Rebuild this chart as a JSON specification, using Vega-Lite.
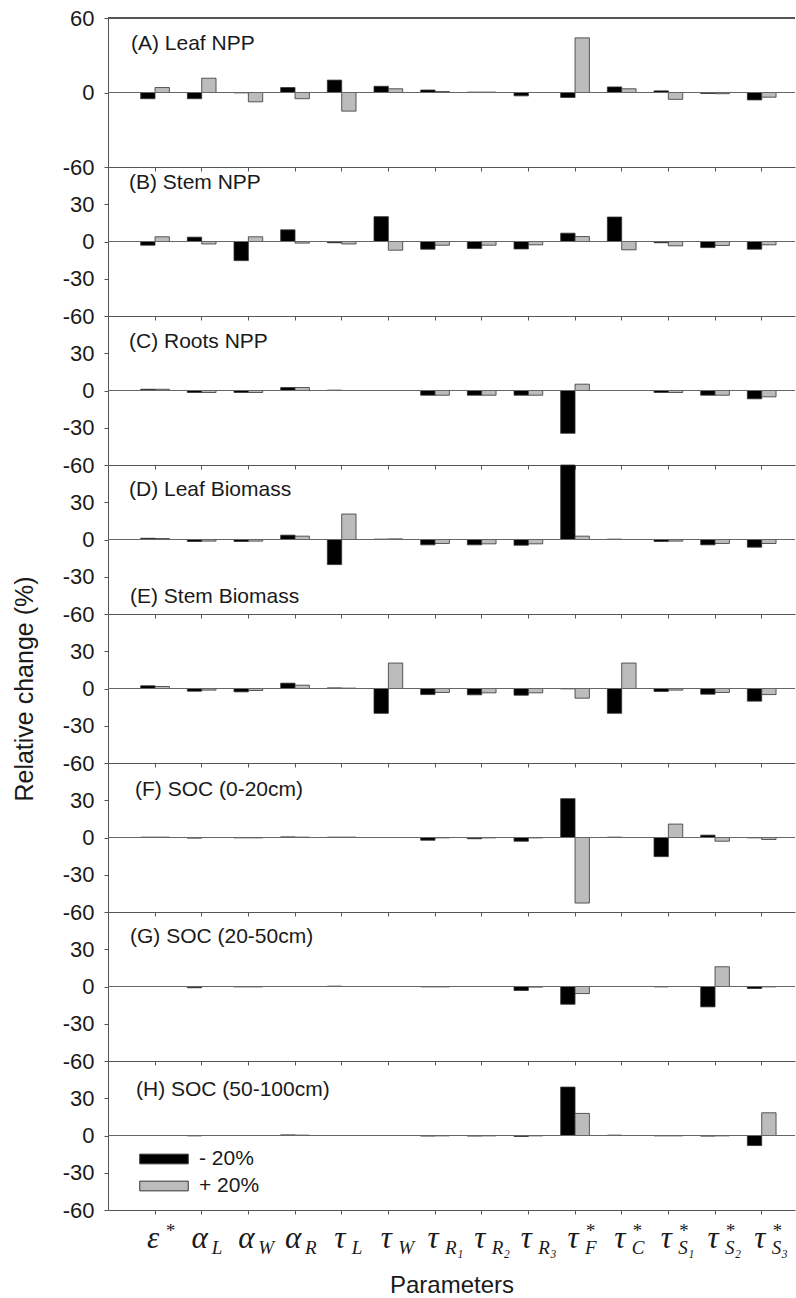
{
  "$schema": "https://vega.github.io/schema/vega-lite/v6.json",
  "padding": {"left": 12, "top": 7, "right": 0, "bottom": 0},
  "spacing": 0,
  "bounds": "flush",
  "datasets": {
    "d": [
      {"panel":"A","param":"ε*","- 20%":-5,"+ 20%":4},
      {"panel":"A","param":"αL","- 20%":-5,"+ 20%":11.5},
      {"panel":"A","param":"αW","- 20%":-0.3,"+ 20%":-7.5},
      {"panel":"A","param":"αR","- 20%":4,"+ 20%":-5},
      {"panel":"A","param":"τL","- 20%":10,"+ 20%":-15},
      {"panel":"A","param":"τW","- 20%":5,"+ 20%":3},
      {"panel":"A","param":"τR₁","- 20%":2,"+ 20%":0.8},
      {"panel":"A","param":"τR₂","- 20%":0.3,"+ 20%":0.3},
      {"panel":"A","param":"τR₃","- 20%":-2.7,"+ 20%":0},
      {"panel":"A","param":"τF*","- 20%":-4,"+ 20%":44},
      {"panel":"A","param":"τC*","- 20%":4.5,"+ 20%":3},
      {"panel":"A","param":"τS₁*","- 20%":1.3,"+ 20%":-5.5},
      {"panel":"A","param":"τS₂*","- 20%":-0.8,"+ 20%":-1},
      {"panel":"A","param":"τS₃*","- 20%":-6,"+ 20%":-3.8},
      {"panel":"B","param":"ε*","- 20%":-3,"+ 20%":3.8},
      {"panel":"B","param":"αL","- 20%":3.5,"+ 20%":-2},
      {"panel":"B","param":"αW","- 20%":-15.4,"+ 20%":3.8},
      {"panel":"B","param":"αR","- 20%":9.4,"+ 20%":-1.3},
      {"panel":"B","param":"τL","- 20%":-1,"+ 20%":-2},
      {"panel":"B","param":"τW","- 20%":20,"+ 20%":-7},
      {"panel":"B","param":"τR₁","- 20%":-6.2,"+ 20%":-3},
      {"panel":"B","param":"τR₂","- 20%":-5.7,"+ 20%":-3},
      {"panel":"B","param":"τR₃","- 20%":-6,"+ 20%":-2.7},
      {"panel":"B","param":"τF*","- 20%":6.7,"+ 20%":4},
      {"panel":"B","param":"τC*","- 20%":19.7,"+ 20%":-6.7},
      {"panel":"B","param":"τS₁*","- 20%":-1,"+ 20%":-3.5},
      {"panel":"B","param":"τS₂*","- 20%":-4.9,"+ 20%":-3.2},
      {"panel":"B","param":"τS₃*","- 20%":-6.2,"+ 20%":-2.7},
      {"panel":"C","param":"ε*","- 20%":1,"+ 20%":1},
      {"panel":"C","param":"αL","- 20%":-1.6,"+ 20%":-1.6},
      {"panel":"C","param":"αW","- 20%":-1.6,"+ 20%":-1.6},
      {"panel":"C","param":"αR","- 20%":2.4,"+ 20%":2.4},
      {"panel":"C","param":"τL","- 20%":0.3,"+ 20%":0},
      {"panel":"C","param":"τW","- 20%":0,"+ 20%":0},
      {"panel":"C","param":"τR₁","- 20%":-3.8,"+ 20%":-3.8},
      {"panel":"C","param":"τR₂","- 20%":-3.8,"+ 20%":-3.8},
      {"panel":"C","param":"τR₃","- 20%":-3.8,"+ 20%":-3.8},
      {"panel":"C","param":"τF*","- 20%":-34.5,"+ 20%":5.1},
      {"panel":"C","param":"τC*","- 20%":0,"+ 20%":0},
      {"panel":"C","param":"τS₁*","- 20%":-1.6,"+ 20%":-1.6},
      {"panel":"C","param":"τS₂*","- 20%":-3.8,"+ 20%":-3.8},
      {"panel":"C","param":"τS₃*","- 20%":-6.7,"+ 20%":-5.1},
      {"panel":"D","param":"ε*","- 20%":1,"+ 20%":0.8},
      {"panel":"D","param":"αL","- 20%":-1.6,"+ 20%":-1.3},
      {"panel":"D","param":"αW","- 20%":-1.6,"+ 20%":-1.3},
      {"panel":"D","param":"αR","- 20%":3.5,"+ 20%":2.7},
      {"panel":"D","param":"τL","- 20%":-20.2,"+ 20%":20.5},
      {"panel":"D","param":"τW","- 20%":0.3,"+ 20%":0.5},
      {"panel":"D","param":"τR₁","- 20%":-4.3,"+ 20%":-3.2},
      {"panel":"D","param":"τR₂","- 20%":-4.3,"+ 20%":-3.5},
      {"panel":"D","param":"τR₃","- 20%":-4.6,"+ 20%":-3.5},
      {"panel":"D","param":"τF*","- 20%":60,"+ 20%":2.7},
      {"panel":"D","param":"τC*","- 20%":0.3,"+ 20%":0},
      {"panel":"D","param":"τS₁*","- 20%":-1.6,"+ 20%":-1.3},
      {"panel":"D","param":"τS₂*","- 20%":-4.3,"+ 20%":-3.2},
      {"panel":"D","param":"τS₃*","- 20%":-6.2,"+ 20%":-3.2},
      {"panel":"E","param":"ε*","- 20%":2.2,"+ 20%":1.6},
      {"panel":"E","param":"αL","- 20%":-2.2,"+ 20%":-1.3},
      {"panel":"E","param":"αW","- 20%":-2.7,"+ 20%":-1.6},
      {"panel":"E","param":"αR","- 20%":4.3,"+ 20%":2.7},
      {"panel":"E","param":"τL","- 20%":0.5,"+ 20%":0.3},
      {"panel":"E","param":"τW","- 20%":-20,"+ 20%":20.5},
      {"panel":"E","param":"τR₁","- 20%":-4.9,"+ 20%":-3.2},
      {"panel":"E","param":"τR₂","- 20%":-5.1,"+ 20%":-3.5},
      {"panel":"E","param":"τR₃","- 20%":-5.4,"+ 20%":-3.5},
      {"panel":"E","param":"τF*","- 20%":-0.3,"+ 20%":-7.8},
      {"panel":"E","param":"τC*","- 20%":-20,"+ 20%":20.5},
      {"panel":"E","param":"τS₁*","- 20%":-2.4,"+ 20%":-1.3},
      {"panel":"E","param":"τS₂*","- 20%":-4.6,"+ 20%":-3.2},
      {"panel":"E","param":"τS₃*","- 20%":-10.2,"+ 20%":-4.9},
      {"panel":"F","param":"ε*","- 20%":0.3,"+ 20%":0.3},
      {"panel":"F","param":"αL","- 20%":-0.5,"+ 20%":0},
      {"panel":"F","param":"αW","- 20%":-0.3,"+ 20%":-0.3},
      {"panel":"F","param":"αR","- 20%":0.5,"+ 20%":0.3},
      {"panel":"F","param":"τL","- 20%":0.3,"+ 20%":0.3},
      {"panel":"F","param":"τW","- 20%":0,"+ 20%":0},
      {"panel":"F","param":"τR₁","- 20%":-2.2,"+ 20%":-0.3},
      {"panel":"F","param":"τR₂","- 20%":-1,"+ 20%":-0.3},
      {"panel":"F","param":"τR₃","- 20%":-3,"+ 20%":-0.3},
      {"panel":"F","param":"τF*","- 20%":31.3,"+ 20%":-52.8},
      {"panel":"F","param":"τC*","- 20%":0.3,"+ 20%":0},
      {"panel":"F","param":"τS₁*","- 20%":-15.4,"+ 20%":10.8},
      {"panel":"F","param":"τS₂*","- 20%":1.9,"+ 20%":-3},
      {"panel":"F","param":"τS₃*","- 20%":-0.3,"+ 20%":-1.6},
      {"panel":"G","param":"ε*","- 20%":0,"+ 20%":0},
      {"panel":"G","param":"αL","- 20%":-1,"+ 20%":0},
      {"panel":"G","param":"αW","- 20%":-0.3,"+ 20%":-0.3},
      {"panel":"G","param":"αR","- 20%":0,"+ 20%":0},
      {"panel":"G","param":"τL","- 20%":0.3,"+ 20%":0},
      {"panel":"G","param":"τW","- 20%":0,"+ 20%":0},
      {"panel":"G","param":"τR₁","- 20%":-0.3,"+ 20%":-0.3},
      {"panel":"G","param":"τR₂","- 20%":0,"+ 20%":0},
      {"panel":"G","param":"τR₃","- 20%":-3.2,"+ 20%":-0.5},
      {"panel":"G","param":"τF*","- 20%":-14.3,"+ 20%":-5.7},
      {"panel":"G","param":"τC*","- 20%":0,"+ 20%":0},
      {"panel":"G","param":"τS₁*","- 20%":-0.3,"+ 20%":0},
      {"panel":"G","param":"τS₂*","- 20%":-16.4,"+ 20%":15.9},
      {"panel":"G","param":"τS₃*","- 20%":-1.6,"+ 20%":-0.3},
      {"panel":"H","param":"ε*","- 20%":0,"+ 20%":0},
      {"panel":"H","param":"αL","- 20%":-0.3,"+ 20%":0},
      {"panel":"H","param":"αW","- 20%":0,"+ 20%":0},
      {"panel":"H","param":"αR","- 20%":0.5,"+ 20%":0.3},
      {"panel":"H","param":"τL","- 20%":0,"+ 20%":0},
      {"panel":"H","param":"τW","- 20%":0,"+ 20%":0},
      {"panel":"H","param":"τR₁","- 20%":-0.5,"+ 20%":-0.3},
      {"panel":"H","param":"τR₂","- 20%":-0.5,"+ 20%":-0.3},
      {"panel":"H","param":"τR₃","- 20%":-0.8,"+ 20%":-0.3},
      {"panel":"H","param":"τF*","- 20%":39,"+ 20%":17.8},
      {"panel":"H","param":"τC*","- 20%":0.3,"+ 20%":0},
      {"panel":"H","param":"τS₁*","- 20%":-0.3,"+ 20%":-0.3},
      {"panel":"H","param":"τS₂*","- 20%":-0.5,"+ 20%":-0.3},
      {"panel":"H","param":"τS₃*","- 20%":-8.1,"+ 20%":18.3}
    ]
  },
  "data": {"name": "d"},
  "transform": [{"fold": ["- 20%", "+ 20%"], "as": ["change", "value"]}],
  "resolve": {"scale": {"color": "independent"}, "legend": {"color": "independent"}},
  "vconcat": [
    {
      "width": 687, "height": 149,
      "title": {"text": "(A) Leaf NPP", "offset": -47, "dx": 23},
      "transform": [{"filter": "datum.panel == 'A'"}],
      "layer": [
        {"mark": {"type": "bar", "stroke": "#333333", "strokeWidth": 0.8},
         "encoding": {
           "x": {"field": "param", "type": "nominal", "sort": null, "scale": {"domain": ["ε*","αL","αW","αR","τL","τW","τR₁","τR₂","τR₃","τF*","τC*","τS₁*","τS₂*","τS₃*"], "paddingInner": 0.385, "paddingOuter": 0.553, "align": 0.633}, "axis": {"labels": false, "title": null}},
           "xOffset": {"field": "change", "type": "nominal", "scale": {"domain": ["- 20%", "+ 20%"], "paddingInner": 0, "paddingOuter": 0}},
           "y": {"field": "value", "type": "quantitative", "scale": {"domain": [-60, 60], "nice": false}, "axis": {"values": [-60, -30, 0, 30, 60], "title": null}},
           "color": {"field": "change", "type": "nominal", "scale": {"domain": ["- 20%", "+ 20%"], "range": ["#000000", "#bcbcbc"]}, "legend": null}
         }},
        {"mark": {"type": "rule", "color": "#666666", "strokeWidth": 1}, "encoding": {"y": {"datum": 0}}},
        {"mark": {"type": "rule", "color": "#555555", "strokeWidth": 1}, "encoding": {"y": {"datum": 60}}}
      ]
    },
    {
      "width": 687, "height": 149,
      "title": {"text": "(B) Stem NPP", "offset": -26, "dx": 21},
      "transform": [{"filter": "datum.panel == 'B'"}],
      "layer": [
        {"mark": {"type": "bar", "stroke": "#333333", "strokeWidth": 0.8},
         "encoding": {
           "x": {"field": "param", "type": "nominal", "sort": null, "scale": {"domain": ["ε*","αL","αW","αR","τL","τW","τR₁","τR₂","τR₃","τF*","τC*","τS₁*","τS₂*","τS₃*"], "paddingInner": 0.385, "paddingOuter": 0.553, "align": 0.633}, "axis": {"labels": false, "title": null}},
           "xOffset": {"field": "change", "type": "nominal", "scale": {"domain": ["- 20%", "+ 20%"], "paddingInner": 0, "paddingOuter": 0}},
           "y": {"field": "value", "type": "quantitative", "scale": {"domain": [-60, 60], "nice": false}, "axis": {"values": [-60, -30, 0, 30], "title": null}},
           "color": {"field": "change", "type": "nominal", "scale": {"domain": ["- 20%", "+ 20%"], "range": ["#000000", "#bcbcbc"]}, "legend": null}
         }},
        {"mark": {"type": "rule", "color": "#666666", "strokeWidth": 1}, "encoding": {"y": {"datum": 0}}}
      ]
    },
    {
      "width": 687, "height": 149,
      "title": {"text": "(C) Roots NPP", "offset": -36, "dx": 21},
      "transform": [{"filter": "datum.panel == 'C'"}],
      "layer": [
        {"mark": {"type": "bar", "stroke": "#333333", "strokeWidth": 0.8},
         "encoding": {
           "x": {"field": "param", "type": "nominal", "sort": null, "scale": {"domain": ["ε*","αL","αW","αR","τL","τW","τR₁","τR₂","τR₃","τF*","τC*","τS₁*","τS₂*","τS₃*"], "paddingInner": 0.385, "paddingOuter": 0.553, "align": 0.633}, "axis": {"labels": false, "title": null}},
           "xOffset": {"field": "change", "type": "nominal", "scale": {"domain": ["- 20%", "+ 20%"], "paddingInner": 0, "paddingOuter": 0}},
           "y": {"field": "value", "type": "quantitative", "scale": {"domain": [-60, 60], "nice": false}, "axis": {"values": [-60, -30, 0, 30], "title": null}},
           "color": {"field": "change", "type": "nominal", "scale": {"domain": ["- 20%", "+ 20%"], "range": ["#000000", "#bcbcbc"]}, "legend": null}
         }},
        {"mark": {"type": "rule", "color": "#666666", "strokeWidth": 1}, "encoding": {"y": {"datum": 0}}}
      ]
    },
    {
      "width": 687, "height": 149,
      "title": {"text": "(D) Leaf Biomass", "offset": -35, "dx": 21},
      "transform": [{"filter": "datum.panel == 'D'"}],
      "layer": [
        {"mark": {"type": "bar", "stroke": "#333333", "strokeWidth": 0.8},
         "encoding": {
           "x": {"field": "param", "type": "nominal", "sort": null, "scale": {"domain": ["ε*","αL","αW","αR","τL","τW","τR₁","τR₂","τR₃","τF*","τC*","τS₁*","τS₂*","τS₃*"], "paddingInner": 0.385, "paddingOuter": 0.553, "align": 0.633}, "axis": {"labels": false, "title": null}},
           "xOffset": {"field": "change", "type": "nominal", "scale": {"domain": ["- 20%", "+ 20%"], "paddingInner": 0, "paddingOuter": 0}},
           "y": {"field": "value", "type": "quantitative", "scale": {"domain": [-60, 60], "nice": false}, "axis": {"values": [-60, -30, 0, 30], "title": null}},
           "color": {"field": "change", "type": "nominal", "scale": {"domain": ["- 20%", "+ 20%"], "range": ["#000000", "#bcbcbc"]}, "legend": null}
         }},
        {"mark": {"type": "rule", "color": "#666666", "strokeWidth": 1}, "encoding": {"y": {"datum": 0}}}
      ]
    },
    {
      "width": 687, "height": 149,
      "title": {"text": "(E) Stem Biomass", "offset": -31, "dx": 22},
      "transform": [{"filter": "datum.panel == 'E'"}],
      "layer": [
        {"mark": {"type": "bar", "stroke": "#333333", "strokeWidth": 0.8},
         "encoding": {
           "x": {"field": "param", "type": "nominal", "sort": null, "scale": {"domain": ["ε*","αL","αW","αR","τL","τW","τR₁","τR₂","τR₃","τF*","τC*","τS₁*","τS₂*","τS₃*"], "paddingInner": 0.385, "paddingOuter": 0.553, "align": 0.633}, "axis": {"labels": false, "title": null}},
           "xOffset": {"field": "change", "type": "nominal", "scale": {"domain": ["- 20%", "+ 20%"], "paddingInner": 0, "paddingOuter": 0}},
           "y": {"field": "value", "type": "quantitative", "scale": {"domain": [-60, 60], "nice": false}, "axis": {"values": [-60, -30, 0, 30], "title": "Relative change (%)", "titlePadding": 25}},
           "color": {"field": "change", "type": "nominal", "scale": {"domain": ["- 20%", "+ 20%"], "range": ["#000000", "#bcbcbc"]}, "legend": null}
         }},
        {"mark": {"type": "rule", "color": "#666666", "strokeWidth": 1}, "encoding": {"y": {"datum": 0}}}
      ]
    },
    {
      "width": 687, "height": 149,
      "title": {"text": "(F) SOC (0-20cm)", "offset": -37, "dx": 27},
      "transform": [{"filter": "datum.panel == 'F'"}],
      "layer": [
        {"mark": {"type": "bar", "stroke": "#333333", "strokeWidth": 0.8},
         "encoding": {
           "x": {"field": "param", "type": "nominal", "sort": null, "scale": {"domain": ["ε*","αL","αW","αR","τL","τW","τR₁","τR₂","τR₃","τF*","τC*","τS₁*","τS₂*","τS₃*"], "paddingInner": 0.385, "paddingOuter": 0.553, "align": 0.633}, "axis": {"labels": false, "title": null}},
           "xOffset": {"field": "change", "type": "nominal", "scale": {"domain": ["- 20%", "+ 20%"], "paddingInner": 0, "paddingOuter": 0}},
           "y": {"field": "value", "type": "quantitative", "scale": {"domain": [-60, 60], "nice": false}, "axis": {"values": [-60, -30, 0, 30], "title": null}},
           "color": {"field": "change", "type": "nominal", "scale": {"domain": ["- 20%", "+ 20%"], "range": ["#000000", "#bcbcbc"]}, "legend": null}
         }},
        {"mark": {"type": "rule", "color": "#666666", "strokeWidth": 1}, "encoding": {"y": {"datum": 0}}}
      ]
    },
    {
      "width": 687, "height": 149,
      "title": {"text": "(G) SOC (20-50cm)", "offset": -35, "dx": 22},
      "transform": [{"filter": "datum.panel == 'G'"}],
      "layer": [
        {"mark": {"type": "bar", "stroke": "#333333", "strokeWidth": 0.8},
         "encoding": {
           "x": {"field": "param", "type": "nominal", "sort": null, "scale": {"domain": ["ε*","αL","αW","αR","τL","τW","τR₁","τR₂","τR₃","τF*","τC*","τS₁*","τS₂*","τS₃*"], "paddingInner": 0.385, "paddingOuter": 0.553, "align": 0.633}, "axis": {"labels": false, "title": null}},
           "xOffset": {"field": "change", "type": "nominal", "scale": {"domain": ["- 20%", "+ 20%"], "paddingInner": 0, "paddingOuter": 0}},
           "y": {"field": "value", "type": "quantitative", "scale": {"domain": [-60, 60], "nice": false}, "axis": {"values": [-60, -30, 0, 30], "title": null}},
           "color": {"field": "change", "type": "nominal", "scale": {"domain": ["- 20%", "+ 20%"], "range": ["#000000", "#bcbcbc"]}, "legend": null}
         }},
        {"mark": {"type": "rule", "color": "#666666", "strokeWidth": 1}, "encoding": {"y": {"datum": 0}}}
      ]
    },
    {
      "width": 687, "height": 149,
      "title": {"text": "(H) SOC (50-100cm)", "offset": -39, "dx": 28},
      "transform": [{"filter": "datum.panel == 'H'"}],
      "resolve": {"axis": {"x": "independent"}},
      "layer": [
        {"transform": [{"filter": "datum.change == '- 20%'"}],
         "mark": {"type": "bar", "stroke": "#333333", "strokeWidth": 0.8},
         "encoding": {
           "x": {"field": "param", "type": "nominal", "sort": null, "scale": {"domain": ["ε*","αL","αW","αR","τL","τW","τR₁","τR₂","τR₃","τF*","τC*","τS₁*","τS₂*","τS₃*"], "paddingInner": 0.385, "paddingOuter": 0.553, "align": 0.633},
                 "axis": {"orient": "bottom", "labelExpr": "substring(datum.value, 0, 1)", "labelFont": "Liberation Serif", "labelFontStyle": "italic", "labelFontSize": 31, "labelBaseline": "alphabetic", "labelPadding": 33, "labelOffset": -2, "labelAngle": 0, "labelOverlap": false, "title": "Parameters", "titlePadding": 20}},
           "xOffset": {"field": "change", "type": "nominal", "scale": {"domain": ["- 20%", "+ 20%"], "paddingInner": 0, "paddingOuter": 0}},
           "y": {"field": "value", "type": "quantitative", "scale": {"domain": [-60, 60], "nice": false}, "axis": {"values": [-60, -30, 0, 30], "title": null}},
           "color": {"field": "change", "type": "nominal", "scale": {"domain": ["- 20%", "+ 20%"], "range": ["#000000", "#bcbcbc"]},
                     "legend": {"orient": "none", "legendX": 43, "legendY": 85, "title": null, "padding": 0, "symbolType": "M-2,-0.4H2V0.4H-2Z", "symbolSize": 588, "symbolStrokeColor": "#333333", "symbolStrokeWidth": 1, "labelFont": "Liberation Sans", "labelFontSize": 21, "labelColor": "#1a1a1a", "labelOffset": 22, "rowPadding": 4}}
         }},
        {"transform": [{"filter": "datum.change == '+ 20%'"}],
         "mark": {"type": "bar", "stroke": "#333333", "strokeWidth": 0.8},
         "encoding": {
           "x": {"field": "param", "type": "nominal", "sort": null, "scale": {"domain": ["ε*","αL","αW","αR","τL","τW","τR₁","τR₂","τR₃","τF*","τC*","τS₁*","τS₂*","τS₃*"], "paddingInner": 0.385, "paddingOuter": 0.553, "align": 0.633},
                 "axis": {"orient": "bottom", "domain": false, "ticks": false, "labelExpr": "[indexof(datum.value, '*') >= 0 ? '*' : '', replace(substring(datum.value, 1), '*', '')]", "labelFont": "Liberation Serif", "labelFontStyle": "italic", "labelFontSize": 19, "labelLineHeight": 17, "labelAlign": "left", "labelOffset": 10, "labelBaseline": "alphabetic", "labelPadding": 26, "labelAngle": 0, "labelOverlap": false, "title": null}},
           "xOffset": {"field": "change", "type": "nominal", "scale": {"domain": ["- 20%", "+ 20%"], "paddingInner": 0, "paddingOuter": 0}},
           "y": {"field": "value", "type": "quantitative", "scale": {"domain": [-60, 60], "nice": false}, "axis": {"values": [-60, -30, 0, 30], "title": null}},
           "color": {"field": "change", "type": "nominal", "scale": {"domain": ["- 20%", "+ 20%"], "range": ["#000000", "#bcbcbc"]}}
         }},
        {"mark": {"type": "rule", "color": "#666666", "strokeWidth": 1}, "encoding": {"y": {"datum": 0}}}
      ]
    }
  ],
  "config": {
    "font": "Liberation Sans",
    "view": {"stroke": null},
    "title": {"anchor": "start", "frame": "group", "font": "Liberation Sans", "fontSize": 21, "fontWeight": "normal", "color": "#1a1a1a", "baseline": "alphabetic"},
    "axis": {"labelFont": "Liberation Sans", "labelFontSize": 22, "labelColor": "#1a1a1a", "domainColor": "#555555", "tickColor": "#555555", "grid": false, "tickSize": 4, "labelPadding": 10, "titleFont": "Liberation Sans", "titleFontWeight": "normal", "titleFontSize": 24, "titleColor": "#1a1a1a"},
    "axisY": {"labelExpr": "'' + datum.value", "titleFontSize": 25}
  }
}
